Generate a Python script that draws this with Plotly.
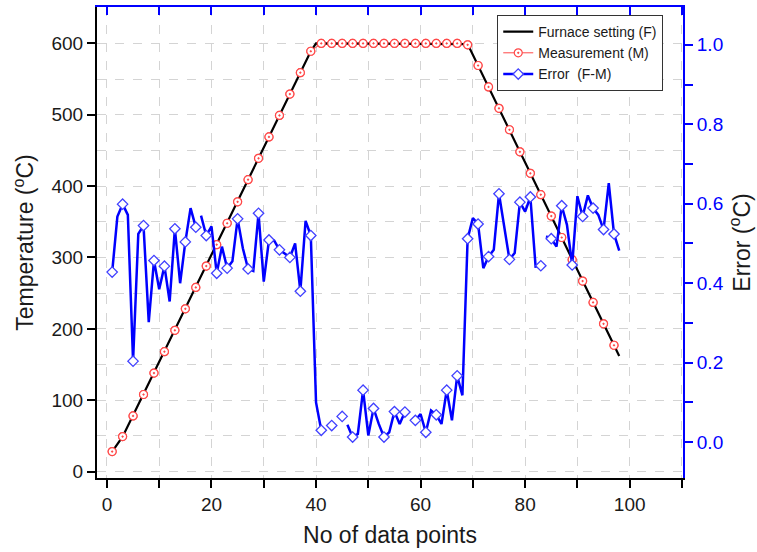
import plotly.graph_objects as go

# ---- data -------------------------------------------------------------
# furnace set-point profile (vertices of the ramp / hold / ramp-down)
furnace_x = [1, 3, 39, 40, 69, 98]
furnace_y = [28, 49, 589, 600, 599, 162]

# measured temperature, recorded at every second data point
meas_x = list(range(1, 98, 2))
meas_y = [28, 49, 78, 108, 138, 168, 198, 228, 258, 288,
          318, 348, 378, 409, 439, 469, 499, 529, 559, 589,
          600, 600, 600, 600, 600, 600, 600, 600, 600, 600,
          600, 600, 600, 600, 598, 569, 539, 509, 479, 448,
          418, 388, 358, 328, 297, 267, 237, 207, 177]

# error F-M for each data point 1..98 (None = no reading)
err_x = list(range(1, 99))
err_y = [0.428, 0.568, 0.599, 0.572, 0.204, 0.524, 0.545, 0.302, 0.457, 0.385,
         0.443, 0.354, 0.537, 0.400, 0.504, 0.589, 0.541, 0.570, 0.520, 0.543,
         0.425, 0.492, 0.438, 0.455, 0.562, 0.488, 0.436, 0.431, 0.576, 0.404,
         0.509, 0.507, 0.484, 0.475, 0.465, 0.500, 0.380, 0.557, 0.520, 0.100,
         0.030, None, 0.042, None, 0.065, 0.044, 0.013, 0.021, 0.131, 0.017,
         0.085, 0.046, 0.013, 0.025, 0.077, 0.046, 0.076, None, 0.055, 0.071,
         0.025, 0.080, 0.069, 0.046, 0.131, 0.055, 0.167, 0.118, 0.512, 0.564,
         0.549, 0.438, 0.467, 0.484, 0.625, 0.539, 0.460, 0.476, 0.604, 0.580,
         0.617, 0.442, 0.444, 0.518, 0.512, 0.492, 0.595, 0.547, 0.446, 0.619,
         0.568, 0.621, 0.589, 0.572, 0.535, 0.652, 0.524, 0.482]
# data points after which the error trace is not connected
err_breaks = [17, 45, 83]

x_ticks = [0, 20, 40, 60, 80, 100]
t_ticks = [0, 100, 200, 300, 400, 500, 600]
e_ticks = [0.0, 0.2, 0.4, 0.6, 0.8, 1.0]

# ---- build broken error line ----------------------------------------
line_x, line_y = [], []
for xv, yv in zip(err_x, err_y):
    line_x.append(xv)
    line_y.append(yv)
    if xv in err_breaks:
        line_x.append(xv + 0.5)
        line_y.append(None)

mark_x = [xv for xv, yv in zip(err_x, err_y) if xv % 2 == 1 and yv is not None]
mark_y = [yv for xv, yv in zip(err_x, err_y) if xv % 2 == 1 and yv is not None]

RED = "#ff4848"
BLUE = "#0000ff"
FONT = "Liberation Sans, Arial, sans-serif"

fig = go.Figure()

# measurement line (sits underneath the set-point line)
fig.add_trace(go.Scatter(
    x=meas_x, y=meas_y, mode="lines+markers", name="Measurement (M)",
    line=dict(color=RED, width=1),
    marker=dict(symbol="circle-dot", size=8, color="white",
                line=dict(color=RED, width=1.2)),
    legendrank=2))

fig.add_trace(go.Scatter(
    x=furnace_x, y=furnace_y, mode="lines", name="Furnace setting (F)",
    line=dict(color="black", width=2.2), legendrank=1))

# measurement symbols drawn above the set-point line
fig.add_trace(go.Scatter(
    x=meas_x, y=meas_y, mode="markers", showlegend=False,
    marker=dict(symbol="circle-dot", size=8, color="white",
                line=dict(color=RED, width=1.2)),
    hoverinfo="skip"))

# error trace on the secondary axis
fig.add_trace(go.Scatter(
    x=line_x, y=line_y, mode="lines", yaxis="y2", showlegend=False,
    line=dict(color=BLUE, width=2.5), connectgaps=False))
fig.add_trace(go.Scatter(
    x=mark_x, y=mark_y, mode="markers", yaxis="y2", showlegend=False,
    marker=dict(symbol="diamond", size=8, color="white",
                line=dict(color="#4040ff", width=1.3))))
# legend entry for the error series
fig.add_trace(go.Scatter(
    x=[None], y=[None], mode="lines+markers", name="Error\u00a0 (F-M)",
    xaxis="x2", yaxis="y2",
    line=dict(color=BLUE, width=2.5),
    marker=dict(symbol="diamond", size=8, color="white",
                line=dict(color="#4040ff", width=1.3)),
    legendrank=3))

grid = dict(showgrid=True, griddash="dash", gridcolor="#d4d4d4", gridwidth=1)

fig.update_layout(
    width=757, height=552,
    margin=dict(l=97, r=74, t=7, b=74),
    paper_bgcolor="white", plot_bgcolor="white",
    font=dict(family=FONT, color="#1a1a1a"),
    showlegend=True,
    legend=dict(x=0.683, y=0.983, xanchor="left", yanchor="top",
                bgcolor="white", bordercolor="#333333", borderwidth=1,
                font=dict(size=14, family=FONT, color="#1a1a1a"),
                tracegroupgap=0, itemwidth=30),
    xaxis=dict(range=[-1.9, 110.2], tickvals=x_ticks, ticks="outside",
               ticklen=8, tickwidth=1.5, tickcolor="black",
               showline=True, linecolor="black", linewidth=2,
               showgrid=False, zeroline=False,
               tickfont=dict(size=19),
               minor=dict(dtick=10, tick0=0, ticks="outside", ticklen=8,
                          tickwidth=1.5, tickcolor="black", **grid),
               title=dict(text="No of data points", font=dict(size=23),
                          standoff=13)),
    xaxis2=dict(range=[-1.9, 110.2], overlaying="x", side="top", anchor="y",
                dtick=10, tick0=0, ticks="inside", ticklen=8, tickwidth=1.5,
                tickcolor=BLUE, showline=True, linecolor=BLUE, linewidth=2,
                showticklabels=False, showgrid=False, zeroline=False),
    yaxis=dict(range=[-9, 651], tickvals=t_ticks, ticks="outside",
               ticklen=8, tickwidth=1.5, tickcolor="black",
               showline=True, linecolor="black", linewidth=2,
               showgrid=False, zeroline=False,
               tickfont=dict(size=19),
               minor=dict(dtick=50, tick0=0, ticks="", **grid),
               title=dict(text="Temperature (<sup>o</sup>C)",
                          font=dict(size=23), standoff=11)),
    yaxis2=dict(range=[-0.09, 1.095], overlaying="y", side="right",
                anchor="x", tickvals=e_ticks, tickformat=".1f",
                ticks="outside", ticklen=8, tickwidth=1.5, tickcolor=BLUE,
                showline=True, linecolor=BLUE, linewidth=2,
                showgrid=False, zeroline=False,
                tickfont=dict(size=19, color=BLUE),
                minor=dict(dtick=0.1, tick0=0, ticks="outside", ticklen=8,
                           tickwidth=1.5, tickcolor=BLUE, showgrid=False),
                title=dict(text="Error (<sup>o</sup>C)",
                           font=dict(size=23, color="#1a1a1a"), standoff=11)),
)

fig.write_html("out.html")
